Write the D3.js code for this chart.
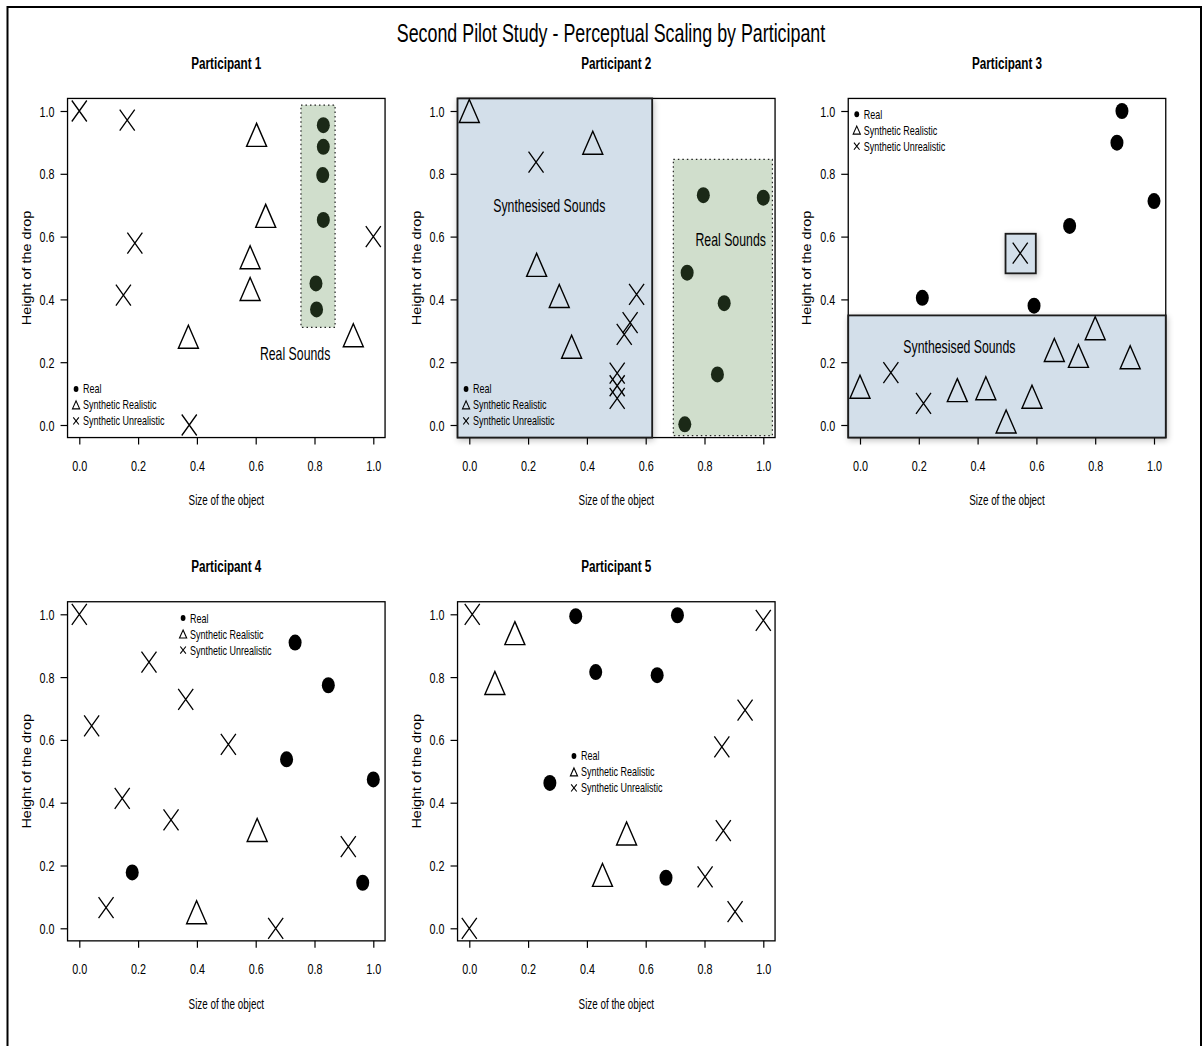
<!DOCTYPE html>
<html>
<head>
<meta charset="utf-8">
<script src="https://cdn.jsdelivr.net/npm/d3@7"></script>
<style>
  html, body { margin: 0; padding: 0; background: #fff; }
  svg { display: block; }
</style>
</head>
<body>
<script>
// ---- data -------------------------------------------------------------
const chartTitle = "Second Pilot Study - Perceptual Scaling by Participant";
const participants = ["Participant 1", "Participant 2", "Participant 3", "Participant 4", "Participant 5"];
const categories = ["Real", "Synthetic Realistic", "Synthetic Unrealistic"];
const xLabel = "Size of the object";
const yLabel = "Height of the drop";
const tickValues = [0, 0.2, 0.4, 0.6, 0.8, 1.0];

// [size, height] pairs per participant and sound category
const p1Real = [[0.830, 0.955], [0.830, 0.886], [0.828, 0.796], [0.830, 0.653], [0.805, 0.451], [0.807, 0.368]];
const p1SynthRealistic = [[0.603, 0.924], [0.634, 0.666], [0.581, 0.534], [0.581, 0.433], [0.371, 0.281], [0.932, 0.286]];
const p1SynthUnrealistic = [[0.0, 1.0], [0.163, 0.971], [0.189, 0.579], [0.150, 0.414], [0.374, 0.0], [1.0, 0.600]];

const p2Real = [[0.796, 0.732], [1.0, 0.724], [0.741, 0.485], [0.867, 0.388], [0.844, 0.161], [0.733, 0.002]];
const p2SynthRealistic = [[0.0, 1.0], [0.420, 0.899], [0.229, 0.510], [0.306, 0.411], [0.348, 0.249]];
const p2SynthUnrealistic = [[0.227, 0.837], [0.569, 0.416], [0.547, 0.326], [0.527, 0.289], [0.503, 0.165], [0.503, 0.125], [0.503, 0.085]];

const p3Real = [[0.891, 1.0], [0.874, 0.899], [1.0, 0.713], [0.713, 0.634], [0.212, 0.405], [0.592, 0.380]];
const p3SynthRealistic = [[0.0, 0.122], [0.331, 0.111], [0.428, 0.117], [0.497, 0.011], [0.585, 0.090], [0.661, 0.239], [0.743, 0.220], [0.800, 0.308], [0.919, 0.216]];
const p3SynthUnrealistic = [[0.545, 0.547], [0.105, 0.167], [0.216, 0.069]];

const p4Real = [[0.734, 0.910], [0.847, 0.774], [0.705, 0.538], [1.0, 0.474], [0.180, 0.178], [0.964, 0.145]];
const p4SynthRealistic = [[0.605, 0.313], [0.399, 0.051]];
const p4SynthUnrealistic = [[0.0, 1.0], [0.237, 0.848], [0.042, 0.645], [0.362, 0.729], [0.507, 0.586], [0.146, 0.414], [0.312, 0.345], [0.091, 0.066], [0.915, 0.260], [0.668, 0.0]];

const p5Real = [[0.362, 0.994], [0.708, 0.997], [0.430, 0.816], [0.639, 0.806], [0.274, 0.463], [0.669, 0.161]];
const p5SynthRealistic = [[0.155, 0.940], [0.087, 0.781], [0.535, 0.302], [0.453, 0.170]];
const p5SynthUnrealistic = [[0.010, 1.0], [1.0, 0.981], [0.938, 0.695], [0.859, 0.578], [0.864, 0.311], [0.802, 0.164], [0.904, 0.053], [0.0, 0.0]];

const seriesByParticipant = [
  [p1Real, p1SynthRealistic, p1SynthUnrealistic],
  [p2Real, p2SynthRealistic, p2SynthUnrealistic],
  [p3Real, p3SynthRealistic, p3SynthUnrealistic],
  [p4Real, p4SynthRealistic, p4SynthUnrealistic],
  [p5Real, p5SynthRealistic, p5SynthUnrealistic]
];

// highlighted groups: [x0, x1, y0, y1] in data units
const groupRegions = [
  [{ kind: "real", box: [0.754, 0.870, 0.311, 1.019], label: "Real Sounds", at: [0.734, 0.226] }],
  [{ kind: "synth", box: [-0.04, 0.622, -0.04, 1.04], label: "Synthesised Sounds", at: [0.272, 0.698] },
   { kind: "real", box: [0.694, 1.031, -0.034, 0.846], label: "Real Sounds", at: [0.889, 0.592] }],
  [{ kind: "synth", box: [-0.04, 1.04, -0.04, 0.349], label: "Synthesised Sounds", at: [0.338, 0.249] },
   { kind: "synth", box: [0.495, 0.598, 0.483, 0.609], label: "", at: null }],
  [],
  []
];
// legend anchor (first row marker) in data units
const legendAnchors = [[-0.011, 0.115], [-0.011, 0.115], [-0.011, 0.990], [0.353, 0.988], [0.356, 0.549]];

// ---- layout -----------------------------------------------------------
const W = 1203, H = 1046;
const SY = 1.2;                       // vertical glyph stretch
const NARROW = "'Liberation Sans Narrow', 'Arial Narrow', 'Liberation Sans', Arial, sans-serif";
const REGULAR = "'Liberation Sans', Arial, Helvetica, sans-serif";
const colX0 = [79.3, 469.3, 860];     // pixel of size = 0 per column
const rowY0 = [425, 928.3];           // pixel of height = 0 per row
const unitW = 294, unitH = 314;
const pad = 0.04;

const svg = d3.select("body").append("svg").attr("width", W).attr("height", H);

const defs = svg.append("defs");
const sh = defs.append("filter").attr("id", "soft").attr("x", "-30%").attr("y", "-30%").attr("width", "160%").attr("height", "160%");
sh.append("feGaussianBlur").attr("in", "SourceAlpha").attr("stdDeviation", 3).attr("result", "b");
sh.append("feOffset").attr("in", "b").attr("dx", 1).attr("dy", 2).attr("result", "o");
sh.append("feComponentTransfer").attr("in", "o").attr("result", "s")
  .append("feFuncA").attr("type", "linear").attr("slope", 0.25);
const mg = sh.append("feMerge");
mg.append("feMergeNode").attr("in", "s");
mg.append("feMergeNode").attr("in", "SourceGraphic");

svg.append("rect").attr("x", 0).attr("y", 0).attr("width", W).attr("height", H).attr("fill", "#fff");
svg.append("rect").attr("x", 7.5).attr("y", 7).attr("width", 1193.5).attr("height", 1060)
  .attr("fill", "none").attr("stroke", "#000").attr("stroke-width", 2);

function stretchedText(parent, x, y, str, opts) {
  const sx = opts.sx || 0.82;
  const g = parent.append("g").attr("transform", `translate(${x},${y}) scale(${sx},${SY})`);
  g.append("text").text(str)
    .attr("text-anchor", opts.anchor || "middle")
    .attr("dominant-baseline", "central")
    .attr("font-family", opts.family || NARROW)
    .attr("font-size", opts.size)
    .attr("font-weight", opts.weight || "normal")
    .attr("fill", "#000");
  return g;
}

stretchedText(svg, 611, 33, chartTitle, { size: 21, sx: 0.85 });

// marker drawers
function drawCircle(g, cx, cy, rx, ry) {
  g.append("ellipse").attr("cx", cx).attr("cy", cy).attr("rx", rx).attr("ry", ry).attr("fill", "#000");
}
function drawTriangle(g, cx, cy, hw, h, sw) {
  g.append("path")
    .attr("d", `M${cx},${cy - h / 2}L${cx + hw},${cy + h / 2}L${cx - hw},${cy + h / 2}Z`)
    .attr("fill", "none").attr("stroke", "#000").attr("stroke-width", sw).attr("stroke-linejoin", "miter");
}
function drawCross(g, cx, cy, hw, hh, sw) {
  g.append("path")
    .attr("d", `M${cx - hw},${cy - hh}L${cx + hw},${cy + hh}M${cx - hw},${cy + hh}L${cx + hw},${cy - hh}`)
    .attr("fill", "none").attr("stroke", "#000").attr("stroke-width", sw);
}
const markers = [
  (g, x, y) => drawCircle(g, x, y, 6.5, 8),
  (g, x, y) => drawTriangle(g, x, y, 10, 23, 1.4),
  (g, x, y) => drawCross(g, x, y, 7.5, 10.5, 1.3)
];
const legendMarkers = [
  (g, x, y) => drawCircle(g, x, y, 2.4, 3),
  (g, x, y) => drawTriangle(g, x, y, 3.6, 8, 1.1),
  (g, x, y) => drawCross(g, x, y, 2.8, 3.6, 1.1)
];

const TICK_SX = 0.9;

participants.forEach((name, i) => {
  const col = i % 3, row = Math.floor(i / 3);
  const x = d3.scaleLinear().domain([0, 1]).range([colX0[col], colX0[col] + unitW]);
  const y = d3.scaleLinear().domain([0, 1]).range([rowY0[row], rowY0[row] - unitH]);
  const bx0 = x(-pad), bx1 = x(1 + pad), by0 = y(1 + pad), by1 = y(-pad);
  const g = svg.append("g");

  // panel title
  stretchedText(g, (bx0 + bx1) / 2, by0 - 35, name, { size: 13, weight: "bold", sx: 0.9 });

  // plot frame
  g.append("rect").attr("x", bx0).attr("y", by0).attr("width", bx1 - bx0).attr("height", by1 - by0)
    .attr("fill", "#fff").attr("stroke", "#000").attr("stroke-width", 1.3);

  // axes
  const ax = g.append("g").attr("transform", `translate(0,${by1})`)
    .call(d3.axisBottom(x).tickValues(tickValues).tickFormat(d3.format(".1f")).tickSize(7).tickSizeOuter(0));
  ax.select(".domain").remove();
  ax.selectAll(".tick line").attr("stroke", "#000").attr("stroke-width", 1.2);
  ax.selectAll(".tick text")
    .attr("y", 28 / SY).attr("dy", null).attr("dominant-baseline", "central")
    .attr("transform", `scale(${TICK_SX},${SY})`)
    .attr("font-family", NARROW).attr("font-size", 12).attr("fill", "#000");

  const ay = g.append("g").attr("transform", `translate(${bx0},0)`)
    .call(d3.axisLeft(y).tickValues(tickValues).tickFormat(d3.format(".1f")).tickSize(7).tickSizeOuter(0));
  ay.select(".domain").remove();
  ay.selectAll(".tick line").attr("stroke", "#000").attr("stroke-width", 1.2);
  ay.selectAll(".tick text")
    .attr("x", -13 / TICK_SX).attr("dy", null).attr("dominant-baseline", "central")
    .attr("transform", `scale(${TICK_SX},${SY})`)
    .attr("font-family", NARROW).attr("font-size", 12).attr("fill", "#000");

  // axis titles
  stretchedText(g, (bx0 + bx1) / 2, by1 + 63, xLabel, { size: 12 });
  g.append("g").attr("transform", `translate(${bx0 - 41},${(by0 + by1) / 2}) scale(1,${SY}) rotate(-90)`)
    .append("text").text(yLabel).attr("text-anchor", "middle").attr("dominant-baseline", "central")
    .attr("font-family", REGULAR).attr("font-size", 12).attr("fill", "#000");

  const regions = groupRegions[i];
  // synthesised-sound groups sit beneath the markers
  regions.filter(r => r.kind === "synth").forEach(r => {
    g.append("rect")
      .attr("x", x(r.box[0])).attr("y", y(r.box[3]))
      .attr("width", x(r.box[1]) - x(r.box[0])).attr("height", y(r.box[2]) - y(r.box[3]))
      .attr("fill", "#d3dfea").attr("stroke", "#1a1a1a").attr("stroke-width", 1.8)
      .attr("filter", "url(#soft)");
  });

  // markers
  seriesByParticipant[i].forEach((pts, k) => {
    const sg = g.append("g").attr("class", "series-" + k);
    pts.forEach(p => markers[k](sg, x(p[0]), y(p[1])));
  });

  // real-sound groups are a translucent green wash over the markers
  regions.filter(r => r.kind === "real").forEach(r => {
    g.append("rect")
      .attr("x", x(r.box[0])).attr("y", y(r.box[3]))
      .attr("width", x(r.box[1]) - x(r.box[0])).attr("height", y(r.box[2]) - y(r.box[3]))
      .attr("fill", "rgb(92,143,78)").attr("fill-opacity", 0.29)
      .attr("stroke", "#222").attr("stroke-width", 1.2).attr("stroke-dasharray", "1.5,3");
  });

  regions.filter(r => r.label).forEach(r => {
    stretchedText(g, x(r.at[0]), y(r.at[1]), r.label, { size: 15 });
  });

  // legend
  const la = legendAnchors[i];
  const lx = x(la[0]), ly = y(la[1]);
  categories.forEach((c, k) => {
    const yy = ly + k * 16;
    legendMarkers[k](g, lx, yy);
    stretchedText(g, lx + 7, yy, c, { size: 10, anchor: "start", sx: 0.9 });
  });
});
</script>
</body>
</html>
